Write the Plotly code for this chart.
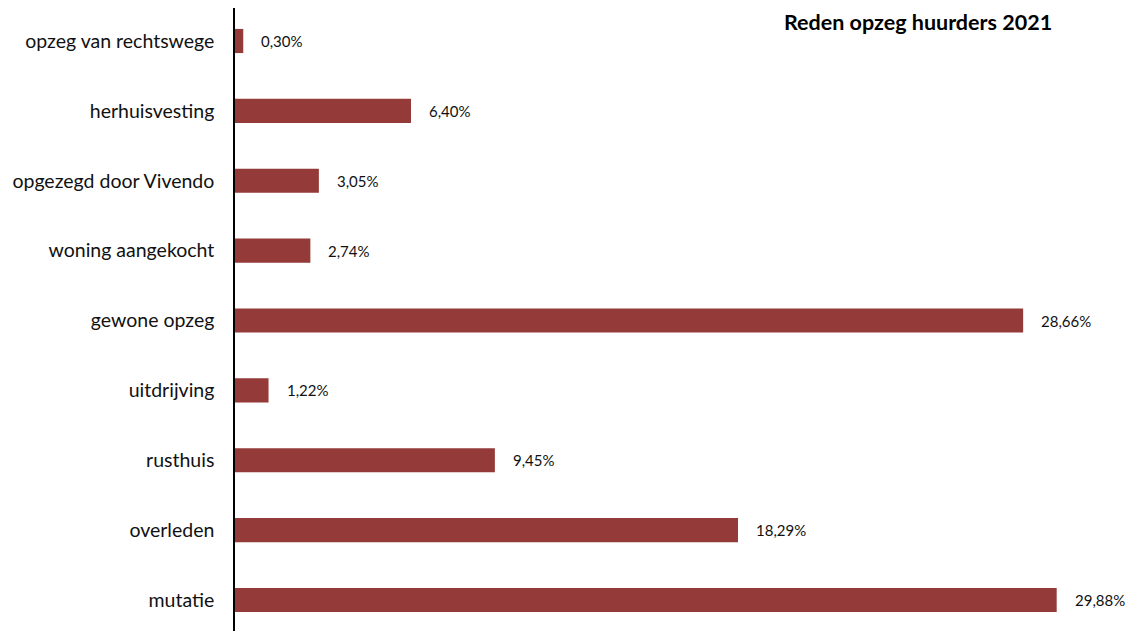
import plotly.graph_objects as go

categories = ["mutatie", "overleden", "rusthuis", "uitdrijving", "gewone opzeg",
              "woning aangekocht", "opgezegd door Vivendo", "herhuisvesting",
              "opzeg van rechtswege"]
values = [29.88, 18.29, 9.45, 1.22, 28.66, 2.74, 3.05, 6.40, 0.30]
title_text = "Reden opzeg huurders 2021"

FONT = "Lato, 'Open Sans', sans-serif"
BAR = "#943a38"

L, R, T, B = 227, 22, 0, 0
W, H = 1137, 631

fig = go.Figure()
fig.add_trace(go.Bar(
    x=values, y=categories, orientation="h",
    marker=dict(color=BAR, line=dict(width=0)),
    width=0.345, hoverinfo="skip",
))

for c, v in zip(categories, values):
    fig.add_annotation(
        x=v, y=c, xref="x", yref="y", text=f"{v:.2f}%".replace(".", ","),
        showarrow=False, xanchor="left", xshift=16,
        font=dict(family=FONT, size=15, color="#111111"),
    )

plot_w = W - L - R
plot_h = H - T - B
fig.add_annotation(
    x=(1045 - L) / plot_w, y=1, xref="paper", yref="paper",
    text=f"<b>{title_text}</b>",
    showarrow=False, xanchor="right", yanchor="top", borderpad=0,
    font=dict(family=FONT, size=21.5, color="#000000"),
)

fig.update_layout(
    width=W, height=H,
    margin=dict(l=L, r=R, t=T, b=B, autoexpand=False),
    paper_bgcolor="white", plot_bgcolor="white",
    showlegend=False,
    font=dict(family=FONT, size=19, color="#111111"),
    xaxis=dict(range=[0, plot_w / 27.5], visible=False, fixedrange=True),
    yaxis=dict(type="category", range=[-0.558, 8.472], showgrid=False,
               showline=True, linecolor="#000000", linewidth=1.5,
               ticks="", ticklabelstandoff=15, fixedrange=True, automargin=False,
               tickfont=dict(family=FONT, size=19.5, color="#111111")),
)

fig.write_html("out.html")
